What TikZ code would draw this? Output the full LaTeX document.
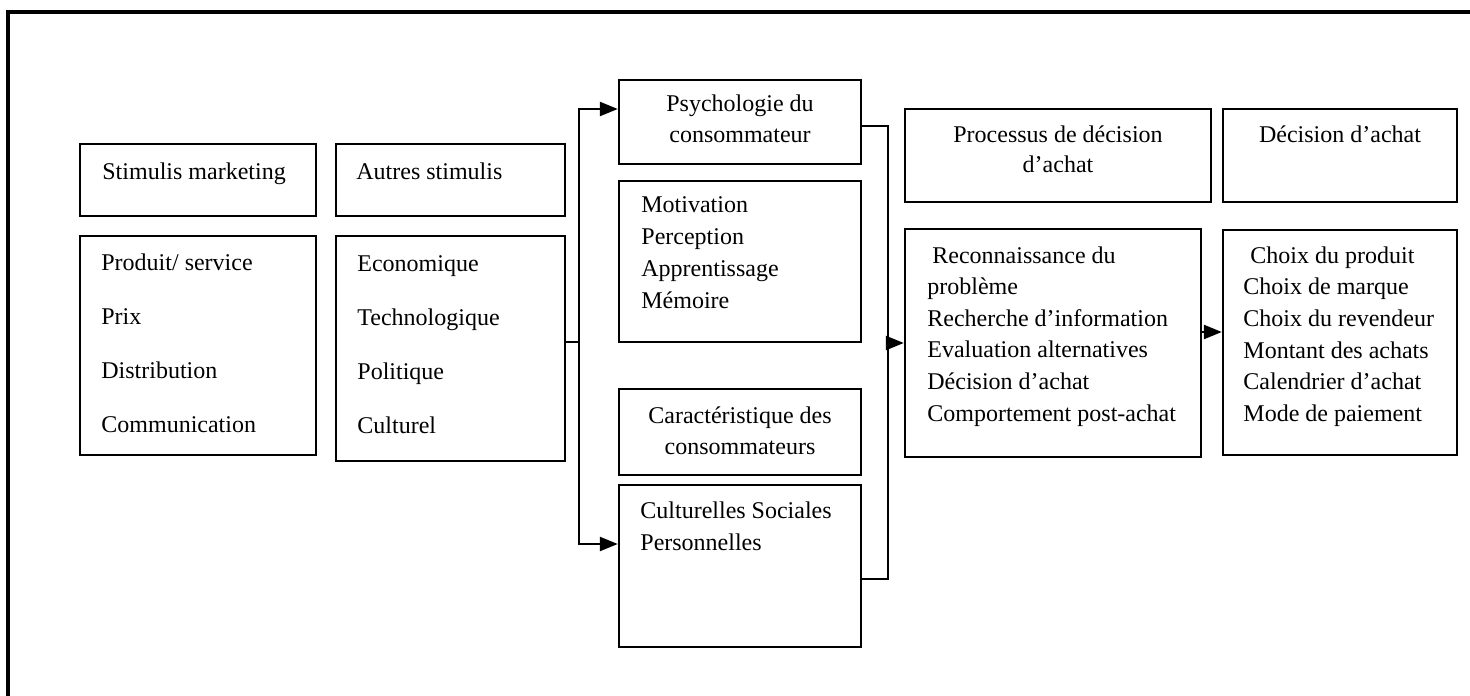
\documentclass[tikz,border=0pt]{standalone}
\usepackage{fontspec}
\setmainfont{Liberation Serif}
\usetikzlibrary{arrows.meta,fit}
\begin{document}
\begin{tikzpicture}[x=0.5pt,y=-0.5pt,
  box/.style={draw,line width=1.2pt,inner sep=0pt},
  txt/.style={anchor=base west,inner sep=0pt,font=\fontsize{12}{14}\selectfont},
  ctxt/.style={anchor=base,inner sep=0pt,font=\fontsize{12}{14}\selectfont},
  link/.style={line width=1.2pt},
  arr/.style={link,-{Triangle[length=9pt,width=7pt]}}]
\useasboundingbox (0,0) rectangle (1470,695);
\clip (0,0) rectangle (1470,695);
% outer frame
\draw[line width=1.6pt] (8,12) rectangle (1490,715);

% column 1: marketing stimuli
\node[box,fit={(80,144)(316,216)}] (sm) {};
\node[txt] (smt) at (102,180) {Stimulis marketing};
\node[box,fit={(80,236)(316,455)}] (smL) {};
\foreach \t [count=\i from 0] in {{Produit/ service},Prix,Distribution,Communication}
  \node[txt] (sml\i) at (101,{270+54*\i}) {\t};

% column 2: other stimuli
\node[box,fit={(336,144)(565,216)}] (as) {};
\node[txt] (ast) at (356,180) {Autres stimulis};
\node[box,fit={(336,236)(565,461)}] (asL) {};
\foreach \t [count=\i from 0] in {Economique,Technologique,Politique,Culturel}
  \node[txt] (asl\i) at (357,{271+54*\i}) {\t};

% column 3: consumer
\node[box,fit={(619,80)(861,164)}] (psy) {};
\node[ctxt] (psy1) at (740,112) {Psychologie du};
\node[ctxt] (psy2) at (740,143) {consommateur};
\node[box,fit={(619,181)(861,342)}] (mot) {};
\foreach \t [count=\i from 0] in {Motivation,Perception,Apprentissage,Mémoire}
  \node[txt] (motl\i) at (641,{213+31.7*\i}) {\t};
\node[box,fit={(619,389)(861,475)}] (car) {};
\node[ctxt] (car1) at (740,423) {Caractéristique des};
\node[ctxt] (car2) at (740,454) {consommateurs};
\node[box,fit={(619,485)(861,647)}] (cul) {};
\node[txt] (cul1) at (640,518) {Culturelles Sociales};
\node[txt] (cul2) at (640,550) {Personnelles};

% column 4: decision process
\node[box,fit={(905,109)(1211,202)}] (pro) {};
\node[ctxt] (pro1) at (1058,143) {Processus de décision};
\node[ctxt] (pro2) at (1058,173) {d’achat};
\node[box,fit={(905,229)(1201,457)}] (rec) {};
\node[txt] (rec0) at (932,263) {Reconnaissance du};
\foreach \t [count=\i from 1] in {problème,Recherche d’information,Evaluation alternatives,Décision d’achat,Comportement post-achat}
  \node[txt] (rec\i) at (927,{263+31.6*\i}) {\t};

% column 5: purchase decision
\node[box,fit={(1223,109)(1457,202)}] (dec) {};
\node[ctxt] (dec1) at (1340,143) {Décision d’achat};
\node[box,fit={(1223,230)(1457,455)}] (cho) {};
\node[txt] (cho0) at (1250,263) {Choix du produit};
\foreach \t [count=\i from 1] in {Choix de marque,Choix du revendeur,Montant des achats,Calendrier d’achat,Mode de paiement}
  \node[txt] (cho\i) at (1243,{263+31.7*\i}) {\t};

% connectors
\coordinate (ja) at (579,342);
\coordinate (jt) at (579,109);
\coordinate (jb) at (579,544);
\draw[link] (asL.east |- ja) -- (ja);
\draw[arr] (ja) -- (jt) -- (jt -| psy.west);
\draw[arr] (ja) -- (jb) -- (jb -| cul.west);

\coordinate (kt) at (888,126);
\coordinate (kb) at (888,579);
\coordinate (km) at (888,343);
\draw[link] (kt -| psy.east) -- (kt) -- (kb) -- (kb -| cul.east);
\draw[arr] (km) -- (km -| rec.west);

\coordinate (rc) at (1201,332);
\draw[arr] (rec.east |- rc) -- (rc -| cho.west);
\end{tikzpicture}
\end{document}
